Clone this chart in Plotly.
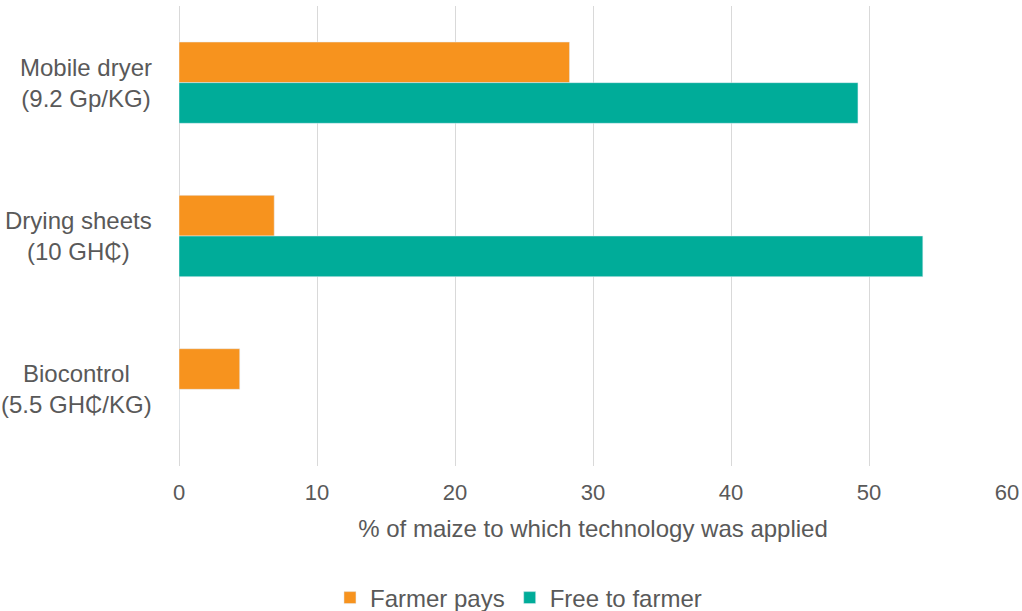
import plotly.graph_objects as go

# ── Data ──────────────────────────────────────────────────────────────────────
categories = ["Mobile dryer", "Drying sheets", "Biocontrol"]
price_labels = ["(9.2 Gp/KG)", "(10 GH₵)", "(5.5 GH₵/KG)"]
farmer_pays = [28.3, 6.9, 4.4]
free_to_farmer = [49.2, 53.9, 0]
x_ticks = [0, 10, 20, 30, 40, 50, 60]

# ── Style tokens ──────────────────────────────────────────────────────────────
_ORANGE = "#F7931E"
_TEAL = "#00AC99"
_TEXT = "#595959"
_GRID = "#D9D9D9"
_FONT = dict(family="Liberation Sans", color=_TEXT, size=24)

fig = go.Figure()
fig.add_trace(go.Bar(
    y=categories, x=farmer_pays, orientation="h",
    name="Farmer pays", marker=dict(color=_ORANGE),
))
fig.add_trace(go.Bar(
    y=categories, x=free_to_farmer, orientation="h",
    name="Free to farmer", marker=dict(color=_TEAL),
))

# two-line category labels, lines centred within a right-aligned block
for cat, price in zip(categories, price_labels):
    fig.add_annotation(
        x=-0.03, xref="paper", y=cat, yref="y",
        text=f"{cat}<br>{price}", showarrow=False,
        xanchor="right", yanchor="middle", align="center",
        font=_FONT,
    )

fig.update_layout(
    width=1022, height=611,
    paper_bgcolor="white", plot_bgcolor="white",
    font=_FONT,
    margin=dict(l=179, r=15, t=6, b=145, autoexpand=False),
    barmode="group", bargap=0.47, bargroupgap=0,
    showlegend=True,
    legend=dict(
        orientation="h", x=0.41, xanchor="center",
        y=-0.287, yanchor="middle",
        font=dict(size=24, color=_TEXT), traceorder="normal",
    ),
    xaxis=dict(
        range=[0, 60], tickvals=x_ticks, automargin=False,
        showgrid=True, gridcolor=_GRID, gridwidth=1,
        zeroline=True, zerolinecolor=_GRID, zerolinewidth=1,
        showline=False,
        ticks="outside", ticklen=7, tickcolor="rgba(0,0,0,0)",
        tickfont=dict(size=22, color=_TEXT),
        title=dict(text="% of maize to which technology was applied",
                   font=dict(size=24, color=_TEXT), standoff=15),
    ),
    yaxis=dict(
        autorange="reversed", showticklabels=False, automargin=False,
        showgrid=False, zeroline=False, showline=False,
    ),
)

# drop the default body margin so the figure fills the window exactly
fig.write_html(
    "out.html",
    config={"displayModeBar": False},
    post_script="document.body.style.margin='0';document.body.style.overflow='hidden';",
)
